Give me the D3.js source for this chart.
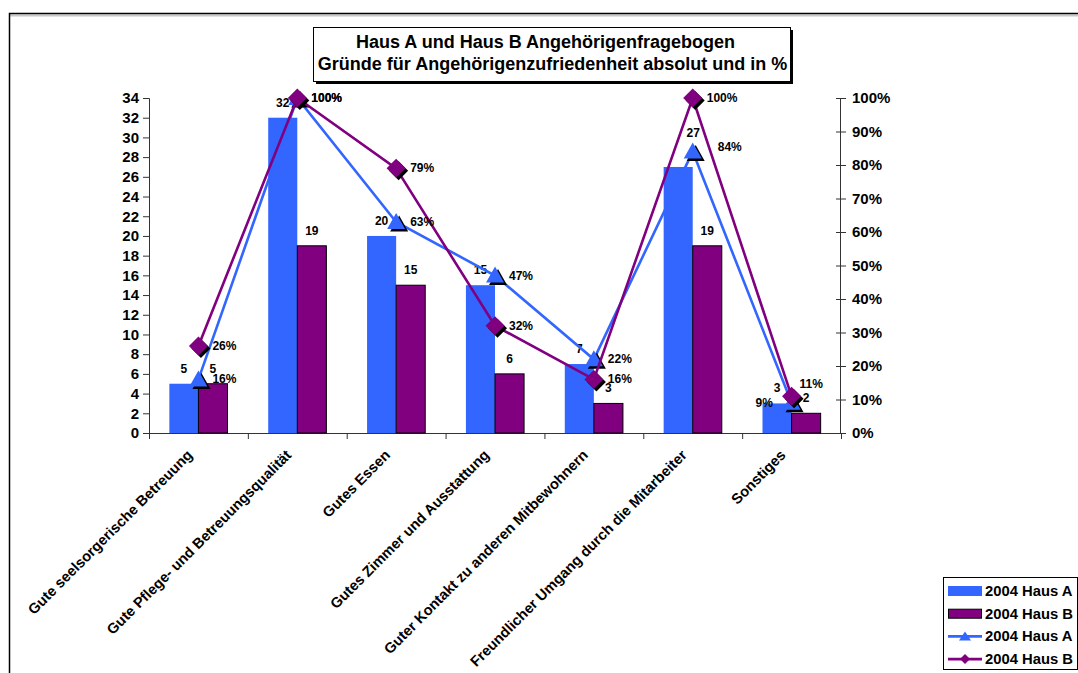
<!DOCTYPE html>
<html lang="de">
<head>
<meta charset="UTF-8">
<title>Haus A und Haus B Angehörigenfragebogen</title>
<script src="https://cdnjs.cloudflare.com/ajax/libs/d3/7.8.5/d3.min.js"></script>
<style>
  body { margin: 0; background: #fff; }
  svg { display: block; font-family: "Liberation Sans", Arial, sans-serif; font-weight: bold; }
</style>
</head>
<body>
<div id="chart"></div>
<script>
// data
const categories = [
  "Gute seelsorgerische Betreuung",
  "Gute Pflege- und Betreuungsqualität",
  "Gutes Essen",
  "Gutes Zimmer und Ausstattung",
  "Guter Kontakt zu anderen Mitbewohnern",
  "Freundlicher Umgang durch die Mitarbeiter",
  "Sonstiges"
];
const hausA = [5, 32, 20, 15, 7, 27, 3];
const hausB = [5, 19, 15, 6, 3, 19, 2];
const pctA = [16, 100, 63, 47, 22, 84, 9];
const pctB = [26, 100, 79, 32, 16, 100, 11];
const leftTicks = d3.range(0, 35, 2);
const rightTicks = d3.range(0, 101, 10);
const titleLines = ["Haus A und Haus B Angehörigenfragebogen",
                    "Gründe für Angehörigenzufriedenheit absolut und in %"];
const legendItems = ["2004 Haus A", "2004 Haus B", "2004 Haus A", "2004 Haus B"];

const blue = "#3366ff", purple = "#800080";
const W = 1078, H = 673;

const svg = d3.select("#chart").append("svg")
  .attr("width", W).attr("height", H);

// outer chart frame
svg.append("line").attr("x1", 9).attr("x2", W).attr("y1", 15.5).attr("y2", 15.5)
  .attr("stroke", "#c8c8c8").attr("stroke-width", 2);
svg.append("rect").attr("x", 9.5).attr("y", 13.5).attr("width", W + 10).attr("height", H + 10)
  .attr("fill", "none").attr("stroke", "#000").attr("stroke-width", 1.5);

const x = d3.scaleBand().domain(categories).range([149, 841]);
const xi = d3.scaleBand().domain(["A", "B"]).range([0, x.bandwidth()]).paddingOuter(0.7);
const y = d3.scaleLinear().domain([0, 34]).range([433, 98]);
const yR = d3.scaleLinear().domain([0, 100]).range([433, 98]);

// axes
const gL = svg.append("g").attr("transform", "translate(149,0)")
  .call(d3.axisLeft(y).tickValues(leftTicks).tickSize(6).tickPadding(4));
gL.selectAll("text").attr("font-size", 15).attr("font-family", null).attr("font-weight", "bold").attr("fill", "#000");

const gR = svg.append("g").attr("transform", "translate(840,0)")
  .call(d3.axisRight(yR).tickValues(rightTicks).tickFormat(d => d + "%").tickSize(6).tickPadding(6));
gR.selectAll(".tick line").attr("x1", -4);
gR.selectAll("text").attr("font-size", 15).attr("font-family", null).attr("font-weight", "bold").attr("fill", "#000");

[gL, gR].forEach(g => {
  g.select(".domain").attr("stroke", "#333");
  g.selectAll(".tick line").attr("stroke", "#333");
});

// category axis
const bounds = categories.map(c => x(c)).concat([x.range()[1]]);
svg.append("line").attr("x1", 149).attr("x2", 841).attr("y1", 433.5).attr("y2", 433.5).attr("stroke", "#333");
svg.selectAll(".xtick").data(bounds).join("line")
  .attr("x1", d => d + 0.5).attr("x2", d => d + 0.5).attr("y1", 433).attr("y2", 439).attr("stroke", "#333");

svg.selectAll(".xlab").data(categories).join("text")
  .attr("transform", d => `translate(${x(d) + x.bandwidth() / 2 - 5},456) rotate(-45)`)
  .attr("text-anchor", "end").attr("font-size", 14.6).text(d => d);

// bars
const bars = svg.append("g");
categories.forEach((c, i) => {
  bars.append("rect")
    .attr("x", x(c) + xi("A")).attr("y", y(hausA[i]))
    .attr("width", xi.bandwidth()).attr("height", y(0) - y(hausA[i]))
    .attr("fill", blue);
  bars.append("rect")
    .attr("x", x(c) + xi("B")).attr("y", y(hausB[i]))
    .attr("width", xi.bandwidth()).attr("height", y(0) - y(hausB[i]))
    .attr("fill", purple).attr("stroke", "#000").attr("stroke-width", 1);
});

// bar value labels (one was moved by hand in the original)
const barNudge = { "A5": [15, -19] };
categories.forEach((c, i) => {
  [["A", hausA[i]], ["B", hausB[i]]].forEach(([k, v]) => {
    const n = barNudge[k + i] || [0, 0];
    bars.append("text")
      .attr("x", x(c) + xi(k) + xi.bandwidth() / 2 + n[0])
      .attr("y", y(v) - 11 + n[1])
      .attr("text-anchor", "middle").attr("font-size", 12).text(v);
  });
});

// lines with markers
const cx = c => x(c) + x.bandwidth() / 2;
const line = d3.line().x(d => cx(d.c)).y(d => yR(d.v));

function triangle(g, px, py, fill) {
  const p = (dx, dy) => `M${px - 9 + dx},${py + 7 + dy}L${px + dx},${py - 9 + dy}L${px + 9 + dx},${py + 7 + dy}Z`;
  g.append("path").attr("d", p(3, 2.5)).attr("fill", "#000");
  g.append("path").attr("d", p(0, 0)).attr("fill", fill);
}
function diamond(g, px, py, fill) {
  const p = (dx, dy) => `M${px + dx},${py - 9.5 + dy}L${px + 9.5 + dx},${py + dy}L${px + dx},${py + 9.5 + dy}L${px - 9.5 + dx},${py + dy}Z`;
  g.append("path").attr("d", p(2.5, 2.5)).attr("fill", "#000");
  g.append("path").attr("d", p(0, 0)).attr("fill", fill);
}

const series = [
  { vals: pctA, color: blue, marker: triangle, nudge: { 5: [11, -5], 6: [-50, 0] } },
  { vals: pctB, color: purple, marker: diamond, nudge: { 6: [-6, -12] } }
];
const lineG = svg.append("g");
series.forEach(s => {
  const pts = categories.map((c, i) => ({ c, v: s.vals[i] }));
  const g = lineG.append("g");
  g.append("path").datum(pts).attr("d", line)
    .attr("fill", "none").attr("stroke", s.color).attr("stroke-width", 2.6);
  pts.forEach(d => s.marker(g, cx(d.c), yR(d.v), s.color));
});
series.forEach(s => {
  categories.forEach((c, i) => {
    const n = s.nudge[i] || [0, 0];
    lineG.append("text")
      .attr("x", cx(c) + 14 + n[0]).attr("y", yR(s.vals[i]) + 4 + n[1])
      .attr("font-size", 12).text(s.vals[i] + "%");
  });
});

// title box
const tb = { x: 313, y: 27, w: 477, h: 54 };
svg.append("rect").attr("x", tb.x + 3).attr("y", tb.y + 3).attr("width", tb.w).attr("height", tb.h).attr("fill", "#000");
svg.append("rect").attr("x", tb.x + 0.5).attr("y", tb.y + 0.5).attr("width", tb.w).attr("height", tb.h)
  .attr("fill", "#fff").attr("stroke", "#000");
svg.selectAll(".title").data(titleLines).join("text")
  .attr("x", (d, i) => tb.x + tb.w / 2 + (i === 0 ? -6 : 1)).attr("y", (d, i) => 48 + i * 22)
  .attr("text-anchor", "middle").attr("font-size", 18).text(d => d);

// legend
const lg = svg.append("g").attr("transform", "translate(943,577)");
lg.append("rect").attr("x", 0.5).attr("y", 0.5).attr("width", 134).attr("height", 92)
  .attr("fill", "#fff").attr("stroke", "#000");
legendItems.forEach((t, i) => {
  const cy = 14 + i * 22.7;
  const row = lg.append("g");
  if (i === 0) {
    row.append("rect").attr("x", 5).attr("y", cy - 5).attr("width", 34).attr("height", 10).attr("fill", blue);
  } else if (i === 1) {
    row.append("rect").attr("x", 5.5).attr("y", cy - 4.5).attr("width", 33).attr("height", 9)
      .attr("fill", purple).attr("stroke", "#000");
  } else {
    const col = i === 2 ? blue : purple;
    row.append("line").attr("x1", 5).attr("x2", 39).attr("y1", cy).attr("y2", cy)
      .attr("stroke", col).attr("stroke-width", 2.6);
    if (i === 2) {
      row.append("path").attr("d", `M${16},${cy + 4}L${22},${cy - 5}L${28},${cy + 4}Z`).attr("fill", col);
    } else {
      row.append("path").attr("d", `M${22},${cy - 5}L${27},${cy}L${22},${cy + 5}L${17},${cy}Z`).attr("fill", col);
    }
  }
  row.append("text").attr("x", 42).attr("y", cy + 5).attr("font-size", 14.8).text(t);
});
</script>
</body>
</html>
